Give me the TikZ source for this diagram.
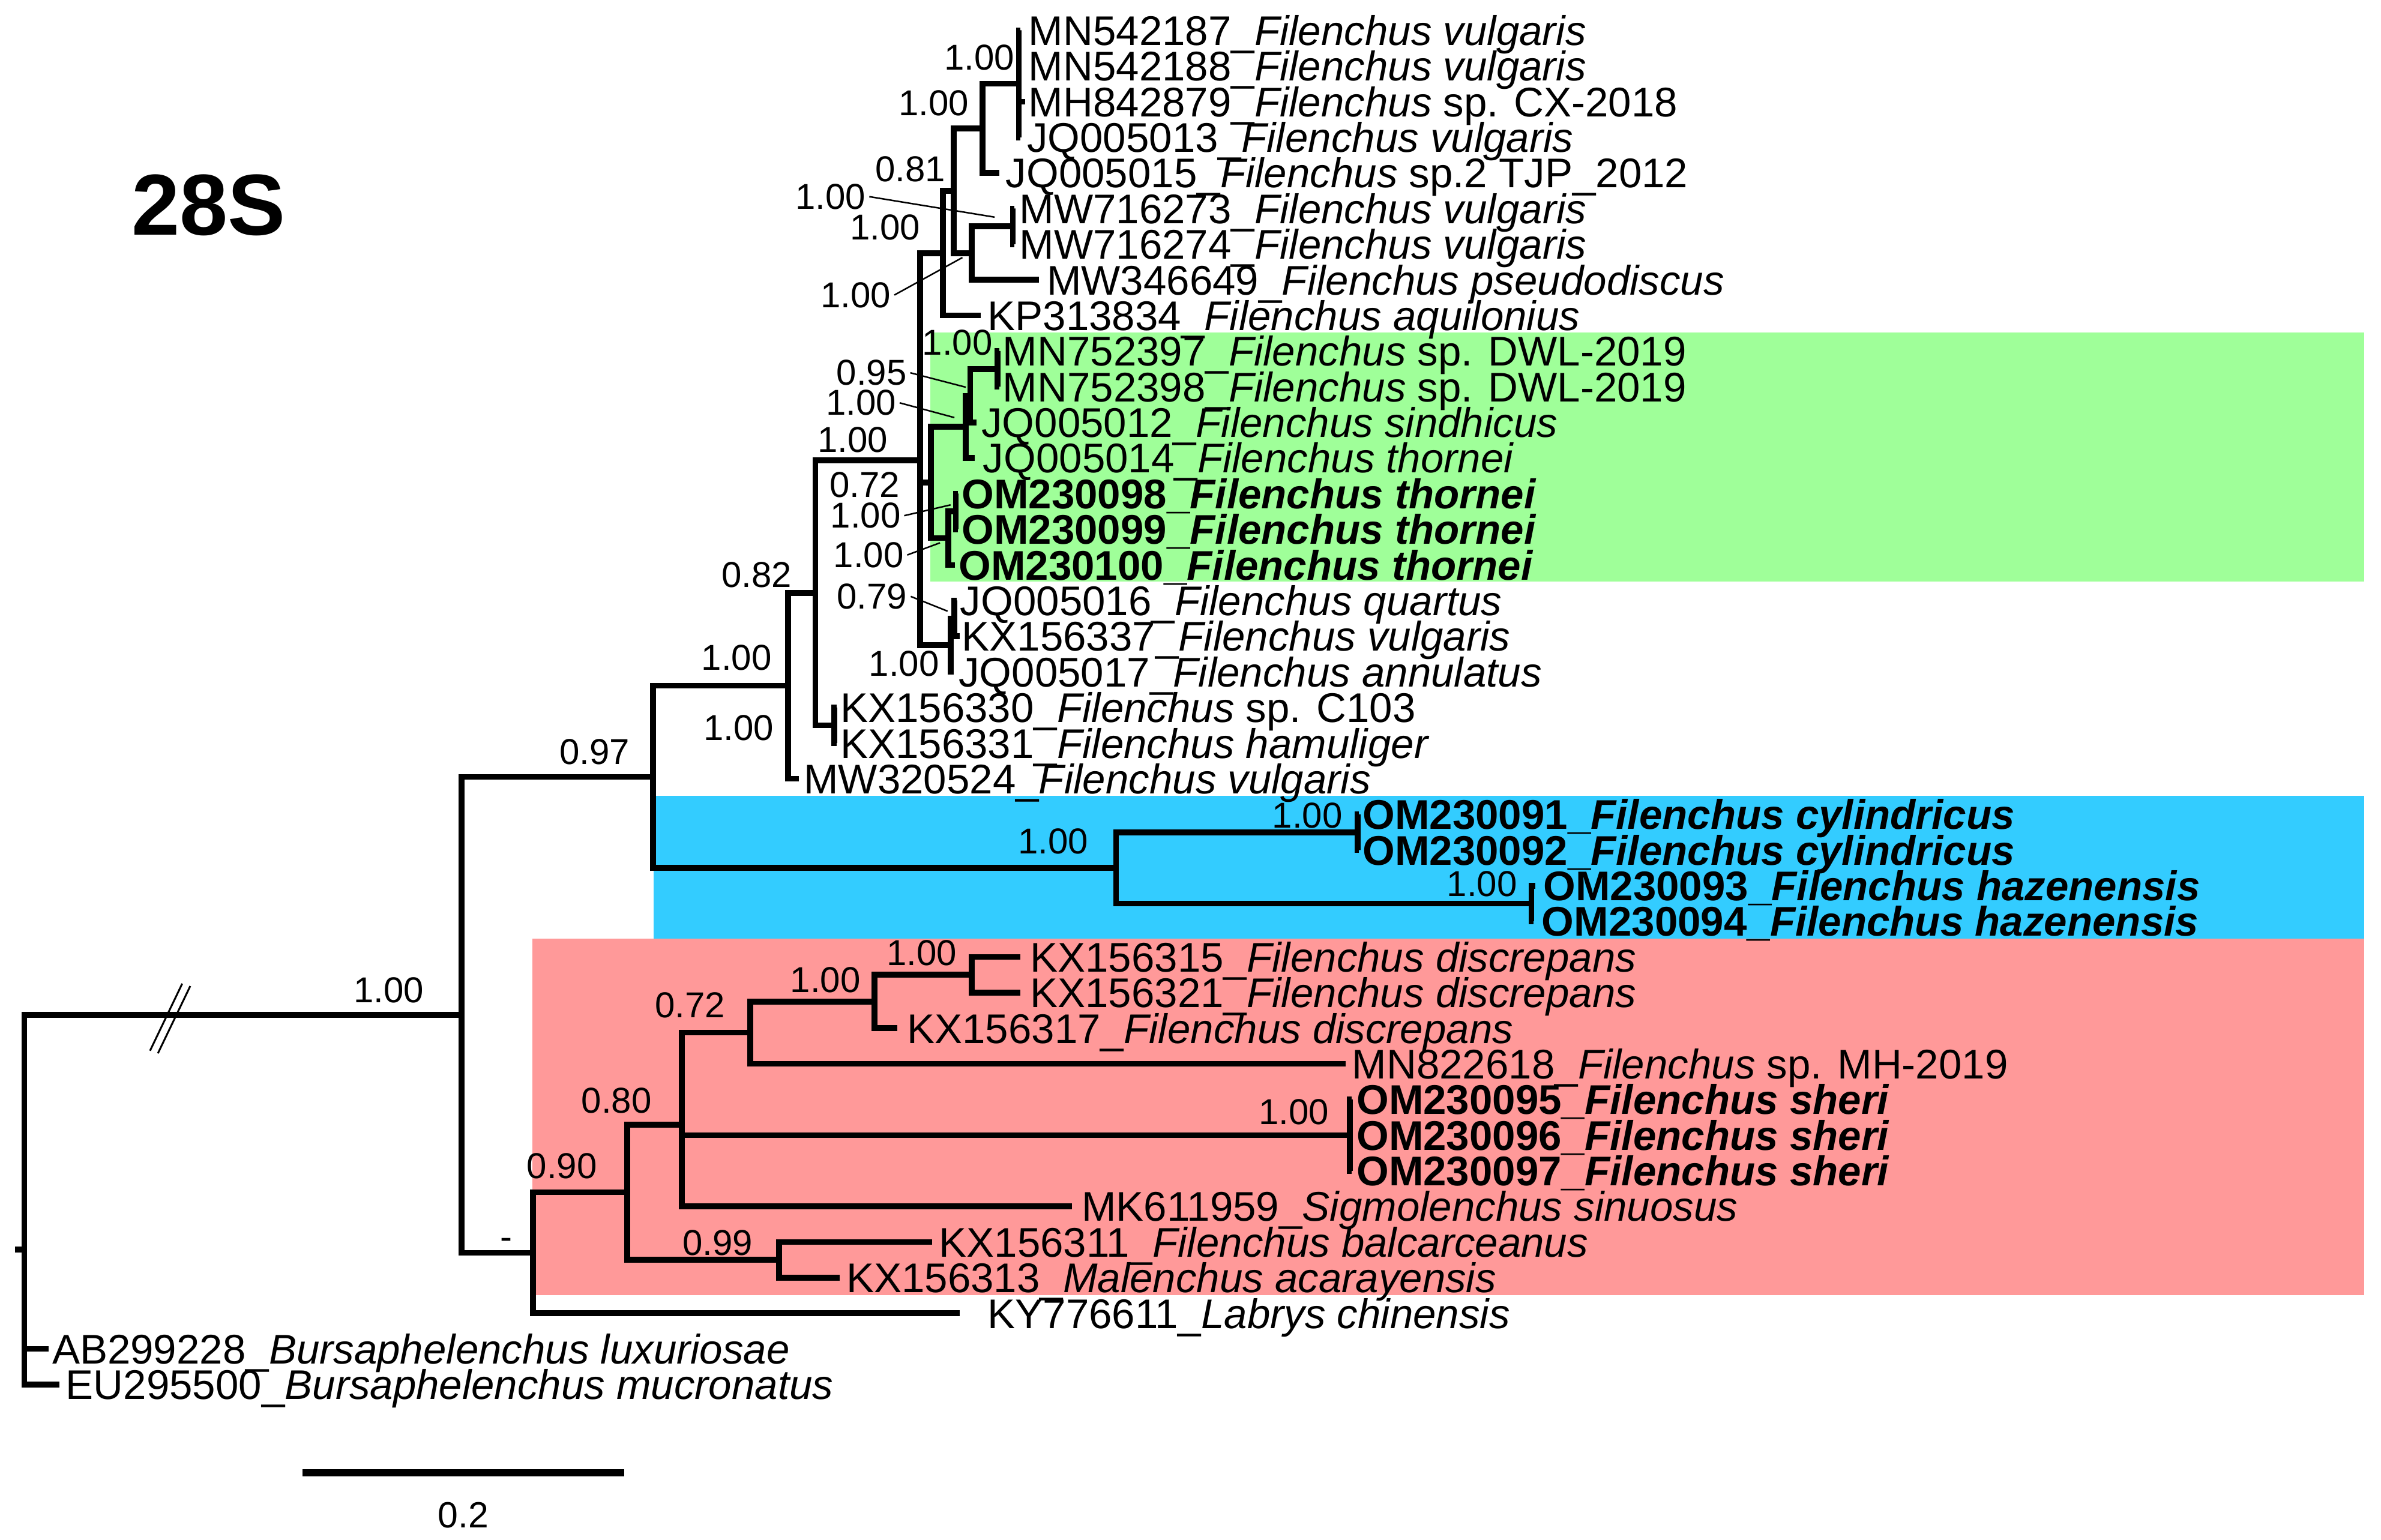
\documentclass[tikz,border=0pt]{standalone}
\usepackage{fontspec}
\setmainfont{Liberation Sans}

\definecolor{greenclade}{RGB}{159,255,153}
\definecolor{blueclade}{RGB}{51,204,255}
\definecolor{pinkclade}{RGB}{255,153,153}

\begin{document}
\begin{tikzpicture}[x = 0.5pt, y = -0.5pt,
  branch/.style = {line width = 1.9pt},
  leader/.style = {line width = 0.5pt},
  leaf/.style = {anchor = base west, inner sep = 0pt,
    font = \fontsize{13.65}{15}\selectfont},
  support/.style = {inner sep = 0pt, font = \fontsize{11.85}{13}\selectfont}]
  \useasboundingbox (0, 0) rectangle (1568, 1014);

  \fill[greenclade] (612.5, 219) rectangle (1557, 383);
  \fill[blueclade] (430.5, 524) rectangle (1557, 618);
  \fill[pinkclade] (350.5, 618) rectangle (1557, 853);

  \node[font = \fontsize{28.5}{30}\selectfont\bfseries] (title) at (137.3, 135)
  {28S};

  \foreach \i/\tip/\tx/\lab in {
    1/672/677/{MN542187\_\textit{Filenchus vulgaris}},
    2/672/677/{MN542188\_\textit{Filenchus vulgaris}},
    3/675/677/{MH842879\_\textit{Filenchus} sp. CX-2018},
    4/672/676/{JQ005013\_\textit{Filenchus vulgaris}},
    5/658/662/{JQ005015\_\textit{Filenchus} sp.2 TJP\_2012},
    6/668/671/{MW716273\_\textit{Filenchus vulgaris}},
    7/668/671/{MW716274\_\textit{Filenchus vulgaris}},
    8/684/689/{MW346649\_\textit{Filenchus pseudodiscus}},
    9/646/650/{KP313834\_\textit{Filenchus aquilonius}},
    10/658/660/{MN752397\_\textit{Filenchus} sp. DWL-2019},
    11/658/660/{MN752398\_\textit{Filenchus} sp. DWL-2019},
    12/643/646/{JQ005012\_\textit{Filenchus sindhicus}},
    13/642/647/{JQ005014\_\textit{Filenchus thornei}},
    14/631/633/{\textbf{OM230098\_\textit{Filenchus thornei}}},
    15/631/633/{\textbf{OM230099\_\textit{Filenchus thornei}}},
    16/629/631/{\textbf{OM230100\_\textit{Filenchus thornei}}},
    17/630/632/{JQ005016\_\textit{Filenchus quartus}},
    18/632/633/{KX156337\_\textit{Filenchus vulgaris}},
    19/628/631/{JQ005017\_\textit{Filenchus annulatus}},
    20/551/553/{KX156330\_\textit{Filenchus} sp. C103},
    21/551/553/{KX156331\_\textit{Filenchus hamuliger}},
    22/526/529/{MW320524\_\textit{Filenchus vulgaris}},
    23/895/897/{\textbf{OM230091\_\textit{Filenchus cylindricus}}},
    24/895/897/{\textbf{OM230092\_\textit{Filenchus cylindricus}}},
    25/1011/1016/{\textbf{OM230093\_\textit{Filenchus hazenensis}}},
    26/1010/1015/{\textbf{OM230094\_\textit{Filenchus hazenensis}}},
    27/672/678/{KX156315\_\textit{Filenchus discrepans}},
    28/672/678/{KX156321\_\textit{Filenchus discrepans}},
    29/591/597/{KX156317\_\textit{Filenchus discrepans}},
    30/886/890/{MN822618\_\textit{Filenchus} sp. MH-2019},
    31/890/893/{\textbf{OM230095\_\textit{Filenchus sheri}}},
    32/890/893/{\textbf{OM230096\_\textit{Filenchus sheri}}},
    33/890/893/{\textbf{OM230097\_\textit{Filenchus sheri}}},
    34/706/712/{MK611959\_\textit{Sigmolenchus sinuosus}},
    35/614/618/{KX156311\_\textit{Filenchus balcarceanus}},
    36/553/557/{KX156313\_\textit{Malenchus acarayensis}},
    37/632/650/{KY776611\_\textit{Labrys chinensis}},
    38/32/34/{AB299228\_\textit{Bursaphelenchus luxuriosae}},
    39/39/43/{EU295500\_\textit{Bursaphelenchus mucronatus}}}
  {
    \coordinate (L\i) at (\tip, {20 + 23.47*(\i-1)});
    \node[leaf] (T\i) at (\tx, {29.8 + 23.47*(\i-1)}) {\lab};
  }

  \coordinate (n4) at (671, 55.2);
  \coordinate (n5) at (647, 84.5);
  \coordinate (nMW) at (667, 149.1);
  \coordinate (nMW3) at (640, 166.7);
  \coordinate (n8) at (628, 125.6);
  \coordinate (n9) at (621, 166.7);
  \coordinate (nMN) at (657, 243.0);
  \coordinate (nX) at (639, 260.6);
  \coordinate (nY) at (636, 281.1);
  \coordinate (nP) at (629.5, 336.8);
  \coordinate (nQ) at (624.5, 354.4);
  \coordinate (nG) at (613, 317.8);
  \coordinate (nR) at (628.5, 407.3);
  \coordinate (nS) at (626, 424.9);
  \coordinate (n606) at (606, 303.1);
  \coordinate (nKX) at (549.5, 477.7);
  \coordinate (n537) at (537, 390.4);
  \coordinate (n519) at (519, 451.6);
  \coordinate (nCyl) at (894, 548.1);
  \coordinate (nHaz) at (1008.5, 595.0);
  \coordinate (nBlue) at (735, 571.6);
  \coordinate (n430) at (430, 511.6);
  \coordinate (nDisc) at (640, 642.0);
  \coordinate (nD3) at (576, 659.6);
  \coordinate (n072) at (494, 680.1);
  \coordinate (nSheri) at (889, 747.6);
  \coordinate (n080) at (449, 740.7);
  \coordinate (n099) at (513, 829.7);
  \coordinate (n090) at (413, 785.2);
  \coordinate (nPink) at (351, 825.1);
  \coordinate (n304) at (304, 668.4);
  \coordinate (root) at (16, 822.9);
  \coordinate (stem) at (10, 822.9);

  \foreach \p/\c in {root/n304, root/L38, root/L39, n304/n430, n304/nPink,
    n430/n519, n430/nBlue, n519/n537, n519/L22, n537/n606, n537/nKX,
    nKX/L20, nKX/L21, n606/n9, n606/nG, n606/nS, n9/n8, n9/L9, n8/n5,
    n8/nMW3, n5/n4, n5/L5, n4/L1, n4/L2, n4/L3, n4/L4, nMW3/nMW, nMW3/L8,
    nMW/L6, nMW/L7, nG/nY, nG/nQ, nY/nX, nY/L13, nX/nMN, nX/L12,
    nMN/L10, nMN/L11, nQ/nP, nQ/L16, nP/L14, nP/L15, nS/nR, nS/L19,
    nR/L17, nR/L18, nBlue/nCyl, nBlue/nHaz, nCyl/L23, nCyl/L24,
    nHaz/L25, nHaz/L26, nPink/n090, nPink/L37, n090/n080, n090/n099,
    n080/n072, n080/nSheri, n080/L34, n072/nD3, n072/L30, nD3/nDisc,
    nD3/L29, nDisc/L27, nDisc/L28, nSheri/L31, nSheri/L32, nSheri/L33,
    n099/L35, n099/L36}
    \draw[branch] (\p) |- (\c);
  \draw[branch] (stem) -- (root);

  \foreach \s/\cx/\cy/\val in {s1/645/38/1.00, s2/615/68/1.00,
    s3/599.5/111.3/0.81, s4/547/129.5/1.00, s5/583/149.8/1.00,
    s6/563.5/194.3/1.00, s7/630.5/225.5/1.00, s8/574/245.5/0.95,
    s9/567/265.3/1.00, s10/561.5/289.5/1.00, s11/569.5/319.5/0.72,
    s12/570/339.6/1.00, s13/572/365.5/1.00, s14/498.3/378.6/0.82,
    s15/485/433.2/1.00, s16/486.4/479.3/1.00, s17/574.3/392.8/0.79,
    s18/595.3/437.1/1.00, s19/391.5/495/0.97, s20/693.5/554/1.00,
    s21/861/537/1.00, s22/976/582/1.00, s23/607/627.7/1.00,
    s24/543.5/645.5/1.00, s25/454.5/662/0.72, s26/852/732.5/1.00,
    s27/406/725/0.80, s28/370/768/0.90, s29/472.7/818.5/0.99,
    s30/256/652/1.00}
    \node[support] (\s) at (\cx, \cy) {\val};
  \node[support] (s31) at (333.5, 819) {-};

  \coordinate (a4) at (655, 143);
  \coordinate (a6) at (633.8, 169.6);
  \coordinate (a8) at (636, 255);
  \coordinate (a9) at (628.5, 275);
  \coordinate (a12) at (626, 332.5);
  \coordinate (a13) at (619, 357.5);
  \coordinate (a17) at (624, 402.5);
  \foreach \s/\a in {s4/a4, s6/a6, s8/a8, s9/a9, s12/a12, s13/a13, s17/a17}
    \draw[leader] (\s.east) ++(2, 0) -- (\a);

  \draw[line width = 0.6pt] (98.8, 692) -- (120, 647.8);
  \draw[line width = 0.6pt] (104, 693.7) -- (125.3, 649.4);

  \coordinate (bar1) at (199.4, 970);
  \coordinate (bar2) at (411, 970);
  \draw[line width = 2.3pt] (bar1) -- (bar2);
  \node[font = \fontsize{12}{13}\selectfont, inner sep = 0pt] (barlabel)
  at (305, 998) {0.2};
\end{tikzpicture}
\end{document}
